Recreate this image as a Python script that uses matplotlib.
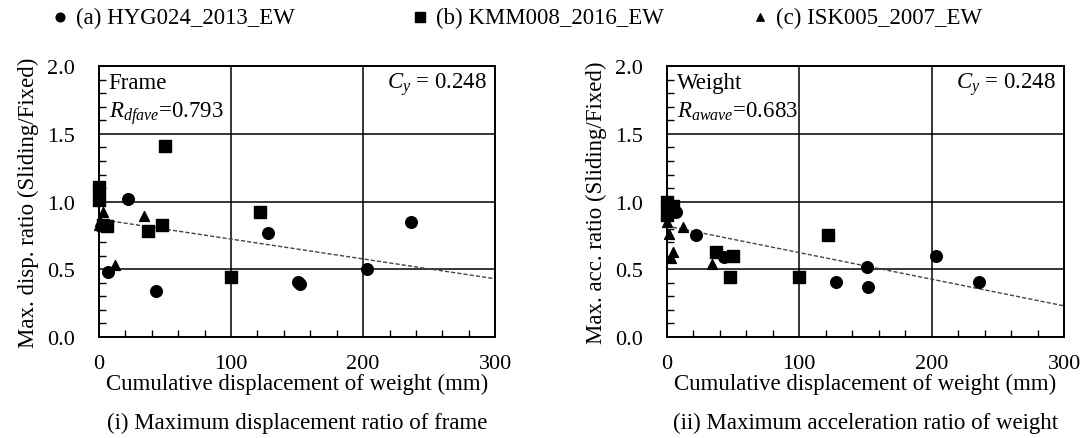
import matplotlib.pyplot as plt
from matplotlib.ticker import MultipleLocator

plt.rcParams["font.family"] = ["Liberation Serif", "DejaVu Serif"]
plt.rcParams["mathtext.fontset"] = "custom"
plt.rcParams["mathtext.rm"] = "Liberation Serif"
plt.rcParams["mathtext.it"] = "Liberation Serif:italic"

series_names = ["(a) HYG024_2013_EW", "(b) KMM008_2016_EW", "(c) ISK005_2007_EW"]

# (i) frame displacement ratio
disp_hyg_x = [22, 7, 43, 128, 151, 152, 203, 236]
disp_hyg_y = [1.02, 0.48, 0.34, 0.77, 0.41, 0.39, 0.50, 0.85]
disp_kmm_x = [0, 0, 3, 6, 50, 37, 48, 100, 122]
disp_kmm_y = [1.11, 1.01, 0.83, 0.82, 1.41, 0.78, 0.83, 0.44, 0.92]
disp_isk_x = [0, 1, 3, 34, 12]
disp_isk_y = [0.83, 0.86, 0.92, 0.89, 0.53]
disp_trend = [0.87, 0.43]  # values at x = 0 and x = 300

# (ii) weight acceleration ratio
acc_hyg_x = [7, 22, 43, 128, 151, 152, 203, 236]
acc_hyg_y = [0.92, 0.75, 0.59, 0.41, 0.52, 0.37, 0.60, 0.41]
acc_kmm_x = [0, 5, 0, 3, 37, 50, 48, 100, 122]
acc_kmm_y = [1.00, 0.97, 0.90, 0.93, 0.63, 0.60, 0.44, 0.44, 0.75]
acc_isk_x = [0, 2, 4.5, 3.3, 12, 34]
acc_isk_y = [0.85, 0.76, 0.63, 0.58, 0.81, 0.54]
acc_trend = [0.82, 0.23]

panels = [
    dict(
        rect=[0.091, 0.230, 0.365, 0.617],
        pts=[(disp_hyg_x, disp_hyg_y), (disp_kmm_x, disp_kmm_y), (disp_isk_x, disp_isk_y)],
        trend=disp_trend,
        tag="Frame",
        ratio=r"$R_{dfave}$=0.793",
        ylabel="Max. disp. ratio (Sliding/Fixed)",
        caption="(i) Maximum displacement ratio of frame",
    ),
    dict(
        rect=[0.614, 0.230, 0.366, 0.617],
        pts=[(acc_hyg_x, acc_hyg_y), (acc_kmm_x, acc_kmm_y), (acc_isk_x, acc_isk_y)],
        trend=acc_trend,
        tag="Weight",
        ratio=r"$R_{awave}$=0.683",
        ylabel="Max. acc. ratio (Sliding/Fixed)",
        caption="(ii) Maximum acceleration ratio of weight",
    ),
]

markers = ["o", "s", "^"]
sizes = [70, 85, 50]
fs = 16.5

fig = plt.figure(figsize=(10.86, 4.39), dpi=100)
handles = []
for p in panels:
    ax = fig.add_axes(p["rect"])
    ax.set_xlim(0, 300)
    ax.set_ylim(0, 2.0)
    ax.xaxis.set_major_locator(MultipleLocator(100))
    ax.xaxis.set_minor_locator(MultipleLocator(20))
    ax.yaxis.set_major_locator(MultipleLocator(0.5))
    ax.yaxis.set_minor_locator(MultipleLocator(0.1))
    ax.yaxis.set_major_formatter(plt.FormatStrFormatter("%.1f"))
    ax.grid(True, which="major", color="black", linewidth=1.1)
    ax.tick_params(which="both", direction="in", top=False, right=False, labelsize=16)
    ax.tick_params(axis="x", which="major", length=0, pad=12)
    ax.tick_params(axis="y", which="major", length=0, pad=17)
    ax.tick_params(which="minor", length=5, width=1.0)
    for s in ax.spines.values():
        s.set_linewidth(1.4)

    handles = []
    for (xs, ys), m, sz in zip(p["pts"], markers, sizes):
        h = ax.scatter(xs, ys, marker=m, s=sz, color="black", zorder=3, clip_on=False)
        handles.append(h)
    ax.plot([0, 300], p["trend"], linestyle=(0, (3, 1.5)), color="#444444", linewidth=1.0, zorder=2)

    ax.text(0.025, 0.919, p["tag"], transform=ax.transAxes, ha="left", va="baseline", fontsize=fs)
    ax.text(0.025, 0.815, p["ratio"], transform=ax.transAxes, ha="left", va="baseline", fontsize=fs)
    ax.text(0.978, 0.919, r"$C_y$ = 0.248", transform=ax.transAxes, ha="right", va="baseline", fontsize=fs)

    ax.set_ylabel(p["ylabel"], fontsize=fs, labelpad=6)
    ax.set_xlabel("Cumulative displacement of weight (mm)", fontsize=fs, labelpad=0)
    ax.text(0.5, -0.314, p["caption"], transform=ax.transAxes, ha="center", va="center", fontsize=fs)

legend_x = [51, 411, 751]
for h, name, x0 in zip(handles, series_names, legend_x):
    fig.legend([h], [name], loc="center left", bbox_to_anchor=(x0 / 1086, 0.958),
               frameon=False, fontsize=fs, handlelength=0.8, handletextpad=0.3,
               markerscale=0.75, borderpad=0, borderaxespad=0)

fig.savefig("out.png", dpi=100)
